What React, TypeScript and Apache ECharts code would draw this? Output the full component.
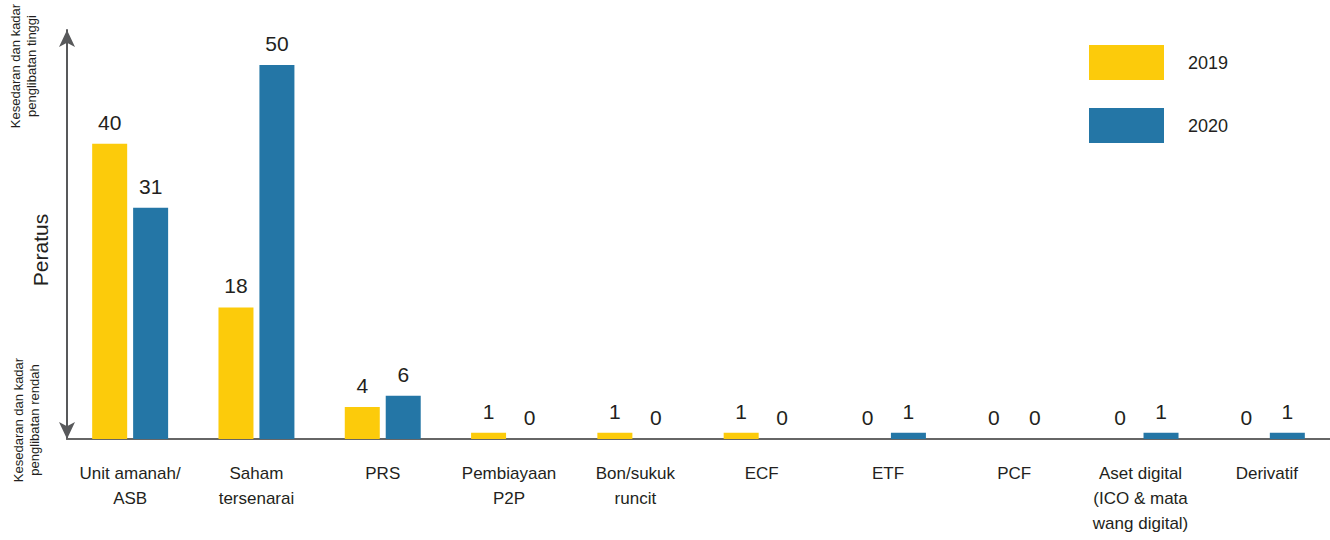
import React, { useEffect, useRef } from "react";
import * as echarts from "echarts";

const categories = [
  "Unit amanah/\nASB",
  "Saham\ntersenarai",
  "PRS",
  "Pembiayaan\nP2P",
  "Bon/sukuk\nruncit",
  "ECF",
  "ETF",
  "PCF",
  "Aset digital\n(ICO & mata\nwang digital)",
  "Derivatif",
];
const values2019 = [39.7, 17.7, 4.3, 0.85, 0.85, 0.85, 0, 0, 0, 0];
const values2020 = [31.1, 50.3, 5.8, 0, 0, 0, 0.85, 0, 0.85, 0.85];
const seriesNames = ["2019", "2020"];

const FONT = "Liberation Sans, Arial, sans-serif";
const TEXT = "#231f20";

export default function App() {
  const ref = useRef<HTMLDivElement>(null);
  useEffect(() => {
    if (!ref.current) return;
    const chart = echarts.init(ref.current, null, { renderer: "svg" });
    const label = {
      show: true,
      position: "top",
      distance: 11,
      fontSize: 21,
      fontFamily: FONT,
      color: TEXT,
      formatter: (p: any) => String(Math.round(p.value)),
    };
    chart.setOption({
      animation: false,
      textStyle: { fontFamily: FONT },
      grid: { left: 67, right: 0, top: 30, bottom: 101, containLabel: false },
      legend: {
        data: seriesNames,
        orient: "vertical",
        left: 1089,
        top: 45,
        padding: 0,
        itemWidth: 75,
        itemHeight: 35,
        itemGap: 28,
        icon: "rect",
        textStyle: { fontSize: 18, color: TEXT, fontFamily: FONT, padding: [0, 0, 0, 19] },
      },
      xAxis: {
        type: "category",
        data: categories,
        axisLine: { show: true, lineStyle: { color: "#666666", width: 2 } },
        axisTick: { show: false },
        axisLabel: {
          interval: 0,
          fontSize: 17,
          lineHeight: 25,
          color: TEXT,
          fontFamily: FONT,
          margin: 22,
        },
      },
      yAxis: {
        type: "value",
        min: 0,
        max: 55,
        splitLine: { show: false },
        axisTick: { show: false },
        axisLabel: { show: false },
        axisLine: {
          show: true,
          symbol: ["arrow", "arrow"],
          symbolSize: [12, 17],
          lineStyle: { color: "#58595b", width: 2 },
        },
      },
      series: [
        {
          name: seriesNames[0],
          type: "bar",
          data: values2019,
          barWidth: 35,
          barGap: "17%",
          itemStyle: { color: "#FCCB0B" },
          label,
        },
        {
          name: seriesNames[1],
          type: "bar",
          data: values2020,
          barWidth: 35,
          itemStyle: { color: "#2476A6" },
          label,
        },
      ],
      graphic: [
        {
          type: "text",
          x: 40,
          y: 250,
          rotation: Math.PI / 2,
          style: {
            text: "Peratus",
            fontSize: 21,
            fontFamily: FONT,
            fill: TEXT,
            align: "center",
            verticalAlign: "middle",
          },
        },
        {
          type: "text",
          x: 23,
          y: 66,
          rotation: Math.PI / 2,
          style: {
            text: "Kesedaran dan kadar\npenglibatan tinggi",
            fontSize: 13,
            lineHeight: 16,
            fontFamily: FONT,
            fill: TEXT,
            align: "center",
            verticalAlign: "middle",
          },
        },
        {
          type: "text",
          x: 26,
          y: 420,
          rotation: Math.PI / 2,
          style: {
            text: "Kesedaran dan kadar\npenglibatan rendah",
            fontSize: 13,
            lineHeight: 16,
            fontFamily: FONT,
            fill: TEXT,
            align: "center",
            verticalAlign: "middle",
          },
        },
      ],
    });
    return () => chart.dispose();
  }, []);
  return (
    <div
      ref={ref}
      style={{ position: "absolute", left: 0, top: 0, width: 1330, height: 540 }}
    />
  );
}
